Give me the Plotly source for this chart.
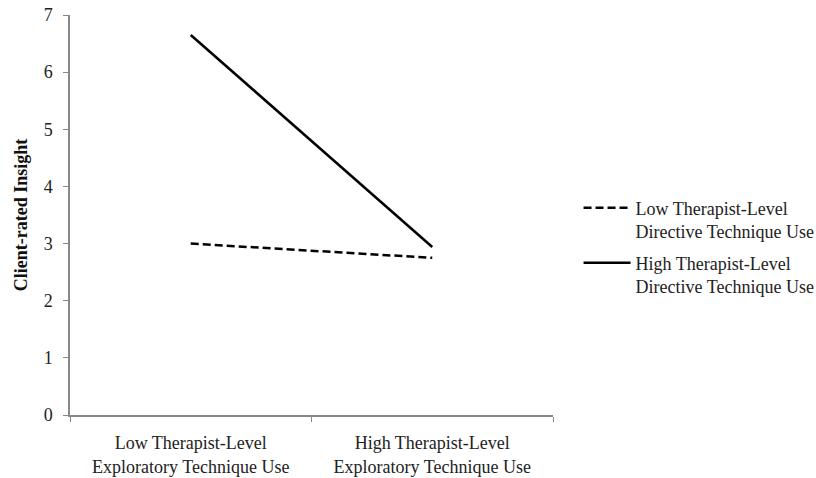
import plotly.graph_objects as go

categories = ["Low Therapist-Level<br>Exploratory Technique Use",
              "High Therapist-Level<br>Exploratory Technique Use"]
low_directive = [3.0, 2.75]
high_directive = [6.65, 2.94]
series_names = ["Low Therapist-Level<br>Directive Technique Use",
                "High Therapist-Level<br>Directive Technique Use"]
y_ticks = [0, 1, 2, 3, 4, 5, 6, 7]

FONT = "Liberation Serif, Times New Roman, serif"

fig = go.Figure()
fig.add_trace(go.Scatter(x=categories, y=low_directive, mode="lines",
                         name=series_names[0], legendgroup="a",
                         line=dict(color="black", width=2.5, dash="8px,4px")))
fig.add_trace(go.Scatter(x=categories, y=high_directive, mode="lines",
                         name=series_names[1], legendgroup="b",
                         line=dict(color="black", width=2.5)))

fig.update_layout(
    width=816, height=478,
    margin=dict(l=70, r=263, t=15, b=63),
    paper_bgcolor="white", plot_bgcolor="white",
    font=dict(family=FONT, size=18, color="#222"),
    showlegend=True,
    legend=dict(xref="container", yref="container",
                x=0.709, y=0.483, xanchor="left", yanchor="middle",
                font=dict(family=FONT, size=18, color="#222"),
                traceorder="grouped", tracegroupgap=5, valign="top",
                itemwidth=47, bgcolor="rgba(0,0,0,0)"),
)
fig.update_xaxes(type="category", range=[-0.5, 1.5], tickson="boundaries",
                 ticks="outside", ticklen=5, tickcolor="#888",
                 showline=True, linecolor="#888", linewidth=1.5,
                 showgrid=False, zeroline=False, automargin=False,
                 ticklabelstandoff=11,
                 tickfont=dict(family=FONT, size=18, color="#222"))
fig.update_yaxes(range=[0, 7], tickvals=y_ticks, ticks="outside", ticklen=5,
                 tickcolor="#888", showline=True, linecolor="#888", linewidth=1.5,
                 showgrid=False, zeroline=False, automargin=False,
                 ticklabelstandoff=7,
                 tickfont=dict(family=FONT, size=18, color="#222"),
                 title=dict(text="<b>Client-rated Insight</b>",
                            font=dict(family=FONT, size=18, color="#111"),
                            standoff=11))

fig.write_html("out.html", config={"displayModeBar": False},
               post_script="document.body.style.margin='0';")
